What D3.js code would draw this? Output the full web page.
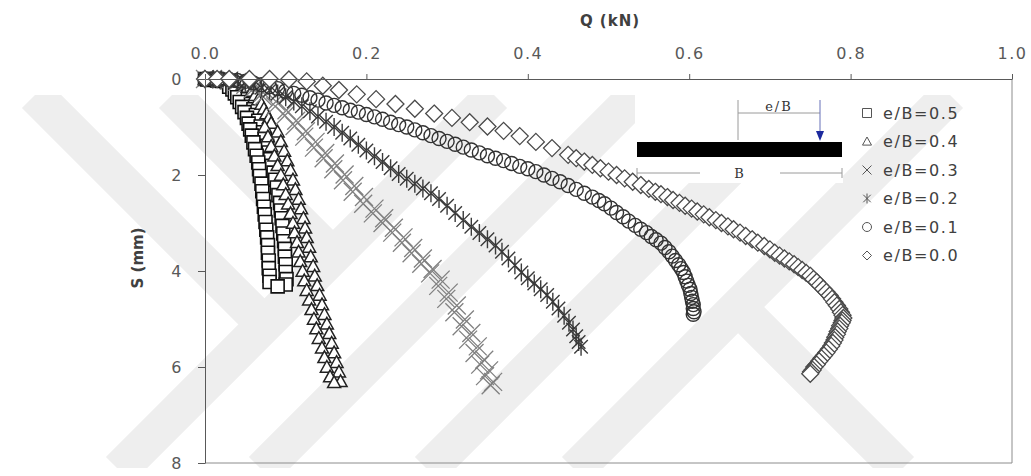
<!DOCTYPE html>
<html>
<head>
<meta charset="utf-8">
<script src="https://cdn.jsdelivr.net/npm/d3@7"></script>
<style>
  body { margin: 0; background: #fff; }
  svg { display: block; }
  text { font-family: "DejaVu Sans", sans-serif; }
</style>
</head>
<body>
<svg id="chart" width="1031" height="476"></svg>
<script>
// Q (kN), S (mm) pairs
const eb05 = [[0,0],[0.003,0.01],[0.006,0],[0.009,0.02],[0.012,0.01],[0.015,0.03],[0.018,0.02],[0.021,0.04],
  [0.024,0.03],[0.027,0.06],[0.03,0.05],[0.033,0.08],[0.036,0.1],[0.039,0.13],[0.03,0.16],[0.042,0.18],[0.034,0.22],
  [0.046,0.25],[0.037,0.3],[0.05,0.33],[0.04,0.38],[0.053,0.42],[0.043,0.48],[0.057,0.52],[0.046,0.58],[0.06,0.63],
  [0.049,0.69],[0.063,0.75],[0.052,0.81],[0.066,0.87],[0.054,0.93],[0.069,0.99],[0.056,1.05],[0.072,1.11],
  [0.058,1.18],[0.074,1.25],[0.06,1.32],[0.077,1.39],[0.062,1.46],[0.079,1.53],[0.064,1.6],[0.081,1.67],[0.066,1.74],
  [0.083,1.81],[0.067,1.88],[0.085,1.95],[0.068,2.02],[0.087,2.1],[0.07,2.18],[0.089,2.26],[0.071,2.34],[0.091,2.42],
  [0.072,2.5],[0.093,2.58],[0.073,2.66],[0.094,2.74],[0.074,2.82],[0.095,2.9],[0.075,2.98],[0.096,3.06],[0.076,3.14],
  [0.097,3.22],[0.077,3.3],[0.098,3.38],[0.078,3.46],[0.099,3.54],[0.078,3.62],[0.099,3.7],[0.079,3.78],[0.1,3.86],
  [0.079,3.94],[0.1,4.02],[0.08,4.1],[0.101,4.17],[0.08,4.23],[0.1,4.28],[0.09,4.32]];

const eb04 = [[0,0],[0.01,0],[0.02,0.01],[0.03,0.02],[0.04,0.05],[0.047,0.1],[0.053,0.17],[0.058,0.25],[0.062,0.34],
  [0.066,0.43],[0.07,0.52],[0.073,0.62],[0.076,0.72],[0.079,0.82],[0.082,0.92],[0.074,1.0],[0.09,1.1],[0.078,1.2],
  [0.094,1.3],[0.082,1.4],[0.098,1.5],[0.086,1.6],[0.102,1.7],[0.09,1.8],[0.106,1.9],[0.094,2.0],[0.109,2.1],
  [0.097,2.2],[0.112,2.3],[0.1,2.4],[0.116,2.5],[0.103,2.6],[0.119,2.7],[0.106,2.8],[0.122,2.9],[0.109,3.0],
  [0.124,3.1],[0.111,3.2],[0.126,3.3],[0.114,3.4],[0.129,3.5],[0.116,3.6],[0.131,3.7],[0.118,3.8],[0.134,3.9],
  [0.121,4.0],[0.136,4.1],[0.123,4.2],[0.139,4.3],[0.126,4.4],[0.142,4.5],[0.129,4.6],[0.145,4.7],[0.132,4.8],
  [0.148,4.9],[0.135,5.0],[0.151,5.1],[0.138,5.2],[0.154,5.3],[0.141,5.4],[0.157,5.5],[0.145,5.6],[0.16,5.7],
  [0.148,5.8],[0.163,5.9],[0.151,6.0],[0.166,6.1],[0.155,6.2],[0.168,6.3],[0.16,6.32]];

const eb03 = [[0,0],[0.01,0],[0.02,0.01],[0.03,0.03],[0.04,0.06],[0.05,0.12],[0.06,0.2],[0.072,0.28],[0.072,0.37],
  [0.088,0.47],[0.087,0.57],[0.101,0.65],[0.099,0.76],[0.113,0.87],[0.111,0.98],[0.125,1.09],[0.123,1.2],
  [0.137,1.31],[0.135,1.43],[0.149,1.54],[0.147,1.65],[0.161,1.76],[0.159,1.88],[0.173,1.99],[0.171,2.11],
  [0.185,2.23],[0.183,2.35],[0.197,2.46],[0.196,2.6],[0.21,2.7],[0.208,2.8],[0.222,2.9],[0.22,3.0],[0.234,3.1],
  [0.232,3.2],[0.246,3.3],[0.244,3.41],[0.258,3.52],[0.256,3.63],[0.27,3.74],[0.268,3.85],[0.282,3.96],
  [0.279,4.05],[0.292,4.18],[0.289,4.31],[0.302,4.45],[0.299,4.58],[0.312,4.72],[0.309,4.86],[0.322,5.01],
  [0.318,5.15],[0.33,5.29],[0.326,5.43],[0.338,5.57],[0.334,5.71],[0.346,5.85],[0.341,5.95],[0.352,6.07],
  [0.347,6.19],[0.357,6.31],[0.354,6.38]];

const eb02 = [[0,0],[0.01,0],[0.02,0.01],[0.03,0.02],[0.04,0.04],[0.05,0.08],[0.06,0.13],[0.07,0.18],[0.08,0.24],
  [0.09,0.3],[0.1,0.38],[0.11,0.47],[0.12,0.57],[0.13,0.67],[0.14,0.78],[0.15,0.89],[0.16,1.0],[0.17,1.12],
  [0.18,1.24],[0.19,1.37],[0.2,1.49],[0.21,1.61],[0.22,1.73],[0.23,1.86],[0.24,1.98],[0.25,2.08],[0.26,2.18],
  [0.27,2.28],[0.28,2.38],[0.29,2.5],[0.3,2.64],[0.31,2.79],[0.32,2.94],[0.33,3.08],[0.34,3.21],[0.35,3.34],
  [0.36,3.47],[0.368,3.6],[0.376,3.74],[0.384,3.88],[0.392,4.03],[0.4,4.15],[0.408,4.26],[0.416,4.38],[0.424,4.5],
  [0.431,4.64],[0.438,4.78],[0.445,4.93],[0.451,5.08],[0.456,5.22],[0.46,5.36],[0.463,5.48],[0.466,5.58]];

const eb01 = [[0,0],[0.01,0],[0.02,0],[0.03,0.01],[0.04,0.03],[0.05,0.05],[0.06,0.08],[0.07,0.12],[0.08,0.16],
  [0.09,0.2],[0.1,0.25],[0.11,0.3],[0.12,0.34],[0.13,0.39],[0.14,0.44],[0.15,0.5],[0.16,0.55],[0.17,0.6],
  [0.18,0.65],[0.19,0.69],[0.2,0.74],[0.21,0.79],[0.22,0.84],[0.23,0.9],[0.24,0.95],[0.25,1.0],[0.26,1.06],
  [0.27,1.12],[0.28,1.18],[0.29,1.24],[0.3,1.3],[0.31,1.36],[0.32,1.42],[0.33,1.48],[0.34,1.54],[0.35,1.6],
  [0.36,1.65],[0.37,1.7],[0.38,1.76],[0.39,1.82],[0.4,1.87],[0.41,1.93],[0.42,2.0],[0.43,2.07],[0.44,2.14],
  [0.45,2.22],[0.46,2.3],[0.47,2.38],[0.48,2.46],[0.488,2.53],[0.495,2.6],[0.503,2.69],[0.51,2.78],[0.518,2.87],
  [0.525,2.96],[0.533,3.05],[0.54,3.13],[0.547,3.2],[0.553,3.28],[0.559,3.35],[0.565,3.42],[0.57,3.51],
  [0.575,3.6],[0.579,3.69],[0.583,3.78],[0.587,3.87],[0.59,3.95],[0.593,4.03],[0.595,4.12],[0.597,4.21],
  [0.599,4.3],[0.601,4.38],[0.602,4.47],[0.603,4.55],[0.604,4.63],[0.605,4.7],[0.605,4.78],[0.606,4.85],[0.605,4.9]];

const eb00 = [[0,0],[0.015,0],[0.03,0],[0.055,0],[0.08,0],[0.104,0.01],[0.126,0.05],[0.146,0.14],[0.166,0.23],
  [0.188,0.32],[0.212,0.42],[0.236,0.52],[0.26,0.62],[0.284,0.72],[0.306,0.81],[0.328,0.9],[0.35,0.99],[0.37,1.08],
  [0.39,1.19],[0.41,1.31],[0.43,1.44],[0.45,1.58],[0.46,1.65],[0.47,1.72],[0.48,1.79],[0.49,1.86],[0.5,1.93],
  [0.51,2.0],[0.52,2.07],[0.53,2.14],[0.54,2.21],[0.55,2.29],[0.558,2.35],[0.565,2.4],[0.573,2.46],[0.58,2.52],
  [0.588,2.58],[0.595,2.64],[0.603,2.7],[0.61,2.76],[0.618,2.82],[0.625,2.88],[0.633,2.94],[0.64,3.0],
  [0.648,3.07],[0.655,3.13],[0.663,3.2],[0.67,3.27],[0.678,3.34],[0.685,3.41],[0.693,3.48],[0.7,3.55],
  [0.706,3.62],[0.712,3.68],[0.718,3.74],[0.724,3.8],[0.73,3.86],[0.735,3.92],[0.74,3.98],[0.745,4.04],[0.75,4.1],
  [0.754,4.17],[0.758,4.23],[0.762,4.3],[0.766,4.37],[0.77,4.44],[0.774,4.51],[0.777,4.58],[0.78,4.65],
  [0.783,4.72],[0.786,4.79],[0.788,4.86],[0.79,4.92],[0.791,4.98],[0.79,5.03],[0.789,5.08],[0.787,5.14],
  [0.786,5.2],[0.784,5.26],[0.783,5.32],[0.781,5.38],[0.78,5.44],[0.778,5.5],[0.776,5.56],[0.773,5.63],[0.77,5.7],
  [0.767,5.76],[0.764,5.82],[0.761,5.88],[0.758,5.95],[0.755,6.0],[0.753,6.06],[0.751,6.1],[0.75,6.14]];

const seriesNames = ["e/B=0.5", "e/B=0.4", "e/B=0.3", "e/B=0.2", "e/B=0.1", "e/B=0.0"];
const qTicks = [0, 0.2, 0.4, 0.6, 0.8, 1.0];
const sTicks = [0, 2, 4, 6, 8];

// marker shapes (size = half width)
const symSquare = { draw(c, r) { c.rect(-r, -r, 2 * r, 2 * r); } };
const symTriangle = { draw(c, r) { c.moveTo(0, -r); c.lineTo(r, r * 0.8); c.lineTo(-r, r * 0.8); c.closePath(); } };
const symTimes = { draw(c, r) { c.moveTo(-r, -r); c.lineTo(r, r); c.moveTo(r, -r); c.lineTo(-r, r); } };
const symStar = { draw(c, r) {
  const k = r * 0.75;
  c.moveTo(-k, -k); c.lineTo(k, k); c.moveTo(k, -k); c.lineTo(-k, k);
  c.moveTo(0, -r); c.lineTo(0, r);
} };
const symCircle = { draw(c, r) { c.moveTo(r, 0); c.arc(0, 0, r, 0, 2 * Math.PI); } };
const symDiamond = { draw(c, r) { c.moveTo(0, -r); c.lineTo(r, 0); c.lineTo(0, r); c.lineTo(-r, 0); c.closePath(); } };

const series = [
  { name: seriesNames[0], data: eb05, type: symSquare, r: 6.5, stroke: "#111", fill: "#fff", sw: 1.6 },
  { name: seriesNames[1], data: eb04, type: symTriangle, r: 6.5, stroke: "#222", fill: "#fff", sw: 1.5 },
  { name: seriesNames[2], data: eb03, type: symTimes, r: 9, stroke: "#808080", fill: "none", sw: 1.3 },
  { name: seriesNames[3], data: eb02, type: symStar, r: 9, stroke: "#3a3a3a", fill: "none", sw: 1.4 },
  { name: seriesNames[4], data: eb01, type: symCircle, r: 7, stroke: "#333", fill: "none", sw: 1.4 },
  { name: seriesNames[5], data: eb00, type: symDiamond, r: 8.5, stroke: "#4a4a4a", fill: "#fff", sw: 1.3 }
];

const svg = d3.select("#chart");
const x = d3.scaleLinear().domain([0, 1]).range([205, 1012]);
const y = d3.scaleLinear().domain([0, 8]).range([79, 463]);

// watermark bands (background decoration)
const wm = svg.append("g");
wm.append("clipPath").attr("id", "wmclip")
  .append("rect").attr("x", 0).attr("y", 95).attr("width", 1031).attr("height", 373);
const bands = [
  [[119, 470], [494, 95]],
  [[35, 95], [258, 318]],
  [[172, 95], [333, 256]],
  [[262, 470], [637, 95]],
  [[428, 470], [803, 95]],
  [[575, 470], [950, 95]],
  [[738, 307], [901, 470]]
];
wm.selectAll("path").data(bands).enter().append("path")
  .attr("clip-path", "url(#wmclip)")
  .attr("d", d3.line())
  .attr("fill", "none")
  .attr("stroke", "#eeeeee")
  .attr("stroke-width", 37);

// plot border (right and bottom)
svg.append("path")
  .attr("d", `M${x(0)},${y(8)}H${x(1)}V${y(0)}`)
  .attr("fill", "none")
  .attr("stroke", "#8c8c8c")
  .attr("stroke-width", 1);

// inset diagram
const inset = svg.append("g");
inset.append("rect").attr("x", 635).attr("y", 88).attr("width", 208).attr("height", 95).attr("fill", "#fff");
inset.append("rect").attr("x", 637).attr("y", 142).attr("width", 205).attr("height", 15).attr("fill", "#000");
inset.append("path")
  .attr("d", "M637,173H700M780,173H842M637,168V178M842,168V178M738,113H820M738,100V140")
  .attr("stroke", "#9a9a9a").attr("stroke-width", 1).attr("fill", "none");
inset.append("path").attr("d", "M820,100V132").attr("stroke", "#6670b8").attr("stroke-width", 1);
inset.append("path").attr("d", "M816,131L824,131L820,141Z").attr("fill", "#1c2a9e");
inset.append("text").attr("x", 779).attr("y", 111).attr("text-anchor", "middle")
  .style("font-family", "'DejaVu Serif', serif").style("font-size", "13px").style("letter-spacing", "2px")
  .attr("fill", "#333").text("e/B");
inset.append("text").attr("x", 739).attr("y", 178).attr("text-anchor", "middle")
  .style("font-family", "'DejaVu Serif', serif").style("font-size", "13px")
  .attr("fill", "#333").text("B");

// data markers
const symbol = d3.symbol();
series.forEach(s => {
  svg.append("g").selectAll("path").data(s.data).enter().append("path")
    .attr("transform", d => `translate(${x(d[0])},${y(d[1])})`)
    .attr("d", symbol.type(s.type).size(s.r)())
    .attr("fill", s.fill)
    .attr("stroke", s.stroke)
    .attr("stroke-width", s.sw);
});

// axes
const xAxis = svg.append("g").attr("transform", `translate(0,${y(0)})`)
  .call(d3.axisTop(x).tickValues(qTicks).tickFormat(d3.format(".1f")).tickSize(5).tickSizeOuter(0).tickPadding(15));
const yAxis = svg.append("g").attr("transform", `translate(${x(0)},0)`)
  .call(d3.axisLeft(y).tickValues(sTicks).tickFormat(d3.format("d")).tickSize(7).tickSizeOuter(0).tickPadding(15));
[xAxis, yAxis].forEach(a => {
  a.select(".domain").attr("stroke", "#595959");
  a.selectAll(".tick line").attr("stroke", "#595959");
  a.selectAll(".tick text")
    .style("font-family", "'DejaVu Sans', sans-serif")
    .style("font-size", "16px")
    .style("letter-spacing", "1.5px")
    .attr("fill", "#595959");
});
yAxis.selectAll(".tick text").attr("dy", "0.36em");

// axis titles
svg.append("text").attr("x", 610).attr("y", 26).attr("text-anchor", "middle")
  .style("font-size", "15px").style("font-weight", "bold").style("letter-spacing", "1px")
  .attr("fill", "#404040").text("Q (kN)");
svg.append("text").attr("transform", `translate(143,258) rotate(-90)`).attr("text-anchor", "middle")
  .style("font-size", "15px").style("font-weight", "bold")
  .attr("fill", "#404040").text("S (mm)");

// legend
const legend = svg.append("g").selectAll("g").data(series).enter().append("g")
  .attr("transform", (d, i) => `translate(867,${113 + i * 28.5})`);
legend.append("path")
  .attr("d", d => symbol.type(d.type).size(d.type === symStar ? 5 : 4.5)())
  .attr("fill", "none")
  .attr("stroke", "#555")
  .attr("stroke-width", 1);
legend.append("text").attr("x", 16).attr("dy", "0.36em")
  .style("font-size", "16px").style("letter-spacing", "1.6px")
  .attr("fill", "#404040").text(d => d.name);
</script>
</body>
</html>
